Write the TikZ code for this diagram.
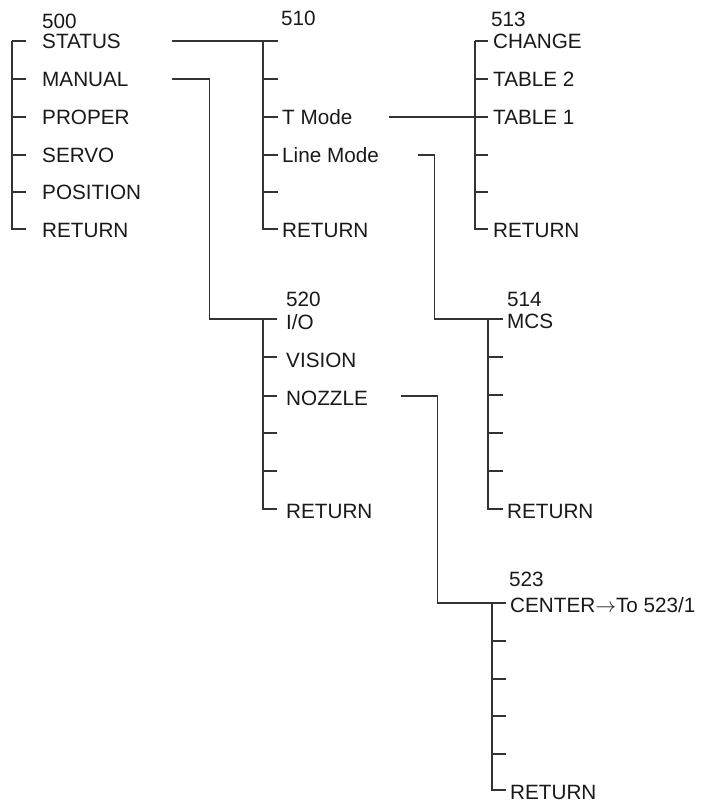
\documentclass[tikz,border=0pt]{standalone}
\usepackage{fontspec}
\setmainfont{Liberation Sans}
\definecolor{lc}{gray}{0.2}
\definecolor{tc}{gray}{0.1}
\begin{document}
\begin{tikzpicture}[x=1pt,y=-1pt,
  bar/.style={draw=lc, line width=1.15pt},
  txt/.style={anchor=base west, inner sep=0pt, font=\fontsize{20.7}{24}\selectfont, text=tc}]
\useasboundingbox (0,0) rectangle (702,805);

% ---------- menu 500 ----------
\foreach \y in {41,79,117,155,192} \draw[bar] (12,\y) -- (26,\y);
\draw[bar] (12,41) -- (12,229) -- (26,229);
\node[txt] (n500) at (42,29) {500};
\node[txt] (status) at (42,49) {STATUS};
\node[txt] (manual) at (42,87) {MANUAL};
\node[txt] (proper) at (42,125) {PROPER};
\node[txt] (servo) at (42,163) {SERVO};
\node[txt] (position) at (42,200) {POSITION};
\node[txt] (ret500) at (42,237) {RETURN};

% ---------- menu 510 ----------
\foreach \y in {41,79,117,155,192} \draw[bar] (263,\y) -- (278,\y);
\draw[bar] (263,41) -- (263,229) -- (278,229);
\coordinate (b510) at (263,41);
\node[txt] (n510) at (281,26) {510};
\node[txt] (tmode) at (282,125) {T Mode};
\node[txt] (linemode) at (282,163) {Line Mode};
\node[txt] (ret510) at (282,237) {RETURN};

% ---------- menu 513 ----------
\foreach \y in {41,79,117,155,192} \draw[bar] (475,\y) -- (488,\y);
\draw[bar] (475,41) -- (475,229) -- (488,229);
\coordinate (b513) at (475,117);
\node[txt] (n513) at (491,26.5) {513};
\node[txt] (change) at (493,49) {CHANGE};
\node[txt] (table2) at (493,87) {TABLE 2};
\node[txt] (table1) at (493,125) {TABLE 1};
\node[txt] (ret513) at (493,237) {RETURN};

% ---------- menu 520 ----------
\foreach \y in {319,357,396,433,471} \draw[bar] (263,\y) -- (277,\y);
\draw[bar] (263,319) -- (263,509) -- (277,509);
\coordinate (b520) at (263,319);
\node[txt] (n520) at (286,306.5) {520};
\node[txt] (io) at (286,329) {I/O};
\node[txt] (vision) at (286,367) {VISION};
\node[txt] (nozzle) at (286,405) {NOZZLE};
\node[txt] (ret520) at (286,518) {RETURN};

% ---------- menu 514 ----------
\foreach \y in {319,357,395,433,471} \draw[bar] (488,\y) -- (503,\y);
\draw[bar] (488,319) -- (488,509) -- (503,509);
\coordinate (b514) at (488,319);
\node[txt] (n514) at (507,306) {514};
\node[txt] (mcs) at (507,328) {MCS};
\node[txt] (ret514) at (507,518) {RETURN};

% ---------- menu 523 ----------
\foreach \y in {603,641,679,716,754} \draw[bar] (492,\y) -- (506,\y);
\draw[bar] (492,603) -- (492,790) -- (506,790);
\coordinate (b523) at (492,603);
\node[txt] (n523) at (509,586.5) {523};
\node[txt] (center) at (510,612) {CENTER$\rightarrow$To 523/1};
\node[txt] (ret523) at (510,799) {RETURN};

% ---------- connectors ----------
\coordinate (statusR) at (172,41);
\coordinate (manualR) at (172,79);
\coordinate (tmodeR) at (389,117);
\coordinate (linemodeR) at (418,155);
\coordinate (nozzleR) at (401,396);
\draw[bar] (statusR) -- (b510);
\draw[bar] (manualR) -- (209.3,79) -- (209.3,319) -- (b520);
\draw[bar] (tmodeR) -- (b513);
\draw[bar] (linemodeR) -- (434.5,155) -- (434.5,319) -- (b514);
\draw[bar] (nozzleR) -- (437.3,396) -- (437.3,603) -- (b523);
\end{tikzpicture}
\end{document}
